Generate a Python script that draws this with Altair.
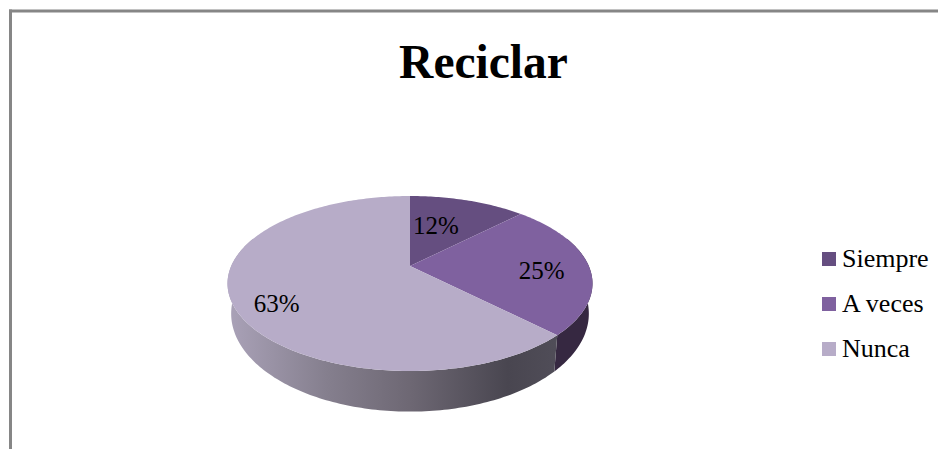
import math
import altair as alt

TITLE = "Reciclar"
categories = ["Siempre", "A veces", "Nunca"]
shares = [12.5, 25.0, 62.5]
label_texts = ["12%", "25%", "63%"]

TOP_COLORS = ["#654e80", "#7f619f", "#b7acc8"]
WALL_RIGHT = "#362841"
FONT = "Liberation Serif"

# pie geometry (page pixels) with a perspective projection of the disc
CX, CY = 410.0, 266.0
RX, RY, K = 178.8, 84.0, 0.2
W_M, W_N, W_Y = 0.98, 1.12, 294.0


def project(r, deg, lower=False):
    a = math.radians(deg)
    u, v = r * math.sin(a), r * math.cos(a)
    w = 1 + K * v
    x, y = RX * u / w, -RY * v / w
    if lower:
        return [CX + W_M * x, W_Y + W_N * y]
    return [CX + x, CY + y]


def arc(a0, a1, lower=False):
    n = max(2, int(abs(a1 - a0)))
    return [project(1, a0 + (a1 - a0) * i / n, lower) for i in range(n + 1)]


def feature(ring, **props):
    ring = ring + [ring[0]]
    return {"type": "Feature", "properties": props,
            "geometry": {"type": "Polygon", "coordinates": [ring]}}


edges = [0.0]
for s in shares:
    edges.append(edges[-1] + s * 3.6)

top = [feature([[CX, CY]] + arc(edges[i], edges[i + 1]), name=categories[i])
       for i in range(3)]
wall_a = [feature(arc(70, edges[2]) + arc(edges[2], 70, True))]
wall_b = [feature(arc(edges[2], 290) + arc(290, edges[2], True))]

# label placement: fraction of radius, and angle shift from the slice's middle
LABEL_R = [0.55, 0.73, 0.80]
LABEL_SHIFT = [-5.5, 4.6, -8.8]
labels = []
for i, t in enumerate(label_texts):
    x, y = project(LABEL_R[i], (edges[i] + edges[i + 1]) / 2 + LABEL_SHIFT[i])
    labels.append({"t": t, "x": x - 8, "y": y - 8})

PROJ = dict(type="identity", scale=1, translate=[-8, -8])

wall_grad = alt.LinearGradient(
    gradient="linear", x1=0, x2=1, y1=0, y2=0,
    stops=[
        alt.GradientStop(offset=0.0, color="#aaa2b8"),
        alt.GradientStop(offset=0.30, color="#857f8e"),
        alt.GradientStop(offset=0.55, color="#6e6874"),
        alt.GradientStop(offset=0.85, color="#494650"),
        alt.GradientStop(offset=1.0, color="#504d58"),
    ],
)

l_wall_a = alt.Chart(alt.Data(values=wall_a)).mark_geoshape(
    fill=WALL_RIGHT, strokeWidth=0).project(**PROJ)
l_wall_b = alt.Chart(alt.Data(values=wall_b)).mark_geoshape(
    fill=wall_grad, strokeWidth=0).project(**PROJ)
l_top = alt.Chart(alt.Data(values=top)).mark_geoshape(strokeWidth=0).encode(
    color=alt.Color(
        "properties.name:N",
        scale=alt.Scale(domain=categories, range=TOP_COLORS),
        legend=alt.Legend(
            title=None, orient="none", legendX=808, legendY=238, padding=0,
            symbolType="square", symbolSize=196, symbolStrokeWidth=0,
            labelFont=FONT, labelFontSize=26, labelColor="#000000",
            labelOffset=0, rowPadding=19, labelLimit=200,
        ),
    )
).project(**PROJ)

l_labels = alt.Chart(alt.Data(values=labels)).mark_text(
    font=FONT, fontSize=25, color="#000000", align="center", baseline="middle"
).encode(x=alt.X("x:Q", scale=None), y=alt.Y("y:Q", scale=None), text="t:N")

l_title = alt.Chart(alt.Data(values=[{"t": TITLE}])).mark_text(
    font=FONT, fontSize=47.5, fontWeight="bold", color="#000000",
    align="center", baseline="alphabetic",
).encode(x=alt.value(475.5), y=alt.value(70), text="t:N")

FRAME = "#868686"
l_frame_top = alt.Chart(alt.Data(values=[{"a": 0}])).mark_rule(
    color=FRAME, strokeWidth=3
).encode(x=alt.value(1), x2=alt.value(930), y=alt.value(3))
l_frame_left = alt.Chart(alt.Data(values=[{"a": 0}])).mark_rule(
    color=FRAME, strokeWidth=3
).encode(x=alt.value(2.5), y=alt.value(1.5), y2=alt.value(441))

chart = alt.layer(
    l_frame_top, l_frame_left, l_wall_a, l_wall_b, l_top, l_labels, l_title
).properties(
    width=930, height=441, padding=0,
    autosize=alt.AutoSizeParams(type="none"),
    background="#ffffff",
).configure_view(stroke=None)

chart.save("out.html", embed_options={"renderer": "svg", "actions": False})
